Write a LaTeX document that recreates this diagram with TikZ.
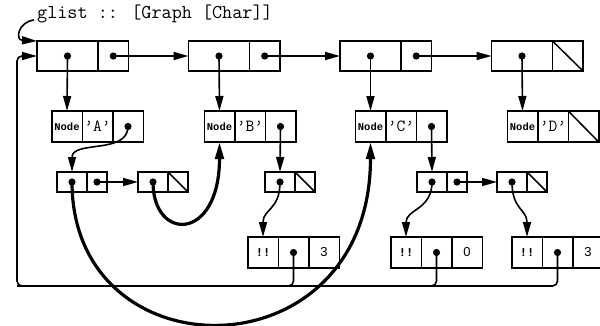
\documentclass[tikz,border=0pt]{standalone}
\usepackage{fontspec}
\setmainfont{Liberation Sans}
\newfontfamily\tagfont{Liberation Mono}
\usetikzlibrary{arrows.meta,positioning}
\tikzset{
  cell/.style={draw,line width=1.5pt,minimum width=30.5pt,minimum height=31pt,inner sep=0pt,outer sep=0pt},
  headcell/.style={cell,minimum width=61pt,minimum height=30pt},
  linkcell/.style={cell,minimum height=30pt},
  conscell/.style={cell,minimum width=30pt,minimum height=20pt},
  tailcell/.style={cell,minimum width=20pt,minimum height=20pt},
  tagcell/.style={cell,font=\tagfont\bfseries\fontsize{10.5}{12}\selectfont},
  bangcell/.style={cell,font=\tagfont\bfseries\fontsize{12}{14}\selectfont},
  charcell/.style={cell,font=\ttfamily\fontsize{17}{19}\selectfont},
  numcell/.style={cell,font=\fontsize{13}{15}\selectfont},
  nilcell/.style={path picture={\draw[line width=1.5pt] (path picture bounding box.north west) -- (path picture bounding box.south east);}},
  ptr/.style={-{Triangle[length=15pt,width=8pt]},line width=1.6pt},
  heavy/.style={-{Triangle[length=17pt,width=8.5pt]},line width=3.2pt},
  wire/.style={line width=1.6pt}
}

\begin{document}
\begin{tikzpicture}[x=1pt,y=1pt]
  \useasboundingbox (0,0) rectangle (600,-325);
  \node[font=\ttfamily\fontsize{19.6}{22}\selectfont,anchor=west,inner sep=0pt] (glist) at (37,-14) {glist :: [Graph [Char]]};

  % the graph list
  \node[headcell] (g1l) at (67.5,-56) {};
  \node[linkcell,right=0pt of g1l] (g1r) {};
  \node[headcell] (g2l) at (219,-56) {};
  \node[linkcell,right=0pt of g2l] (g2r) {};
  \node[headcell] (g3l) at (370.5,-56) {};
  \node[linkcell,right=0pt of g3l] (g3r) {};
  \node[headcell] (g4l) at (522,-56) {};
  \node[linkcell,nilcell,right=0pt of g4l] (g4r) {};

  % graph nodes
  \node[tagcell] (n1a) at (67,-126.5) {Node};
  \node[charcell,right=0pt of n1a] (n1b) {’A’};
  \node[cell,right=0pt of n1b] (n1c) {};
  \node[tagcell] (n2a) at (219.5,-126.5) {Node};
  \node[charcell,right=0pt of n2a] (n2b) {’B’};
  \node[cell,right=0pt of n2b] (n2c) {};
  \node[tagcell] (n3a) at (370.5,-126.5) {Node};
  \node[charcell,right=0pt of n3a] (n3b) {’C’};
  \node[cell,right=0pt of n3b] (n3c) {};
  \node[tagcell] (n4a) at (522.5,-126.5) {Node};
  \node[charcell,right=0pt of n4a] (n4b) {’D’};
  \node[cell,nilcell,right=0pt of n4b] (n4c) {};

  % successor lists
  \node[conscell] (c1l) at (72,-182) {};
  \node[tailcell,right=0pt of c1l] (c1r) {};
  \node[conscell] (c2l) at (153,-182) {};
  \node[tailcell,nilcell,right=0pt of c2l] (c2r) {};
  \node[conscell] (c3l) at (280,-182) {};
  \node[tailcell,nilcell,right=0pt of c3l] (c3r) {};
  \node[conscell] (c4l) at (432,-182) {};
  \node[tailcell,right=0pt of c4l] (c4r) {};
  \node[conscell] (c5l) at (512,-182) {};
  \node[tailcell,nilcell,right=0pt of c5l] (c5r) {};

  % indexing thunks
  \node[bangcell] (b1a) at (263,-252.5) {!!};
  \node[cell,right=0pt of b1a] (b1b) {};
  \node[numcell,right=0pt of b1b] (b1c) {3};
  \node[bangcell] (b2a) at (406,-252.5) {!!};
  \node[cell,right=0pt of b2a] (b2b) {};
  \node[numcell,right=0pt of b2b] (b2c) {0};
  \node[bangcell] (b3a) at (527,-252.5) {!!};
  \node[cell,right=0pt of b3a] (b3b) {};
  \node[numcell,right=0pt of b3b] (b3c) {3};

  \coordinate (loopL) at (17,-286);

  \draw[ptr] ([xshift=-3pt,yshift=-6pt]glist.west) .. controls (18,-22) and (15,-40) .. (g1l.north west);
  \draw[ptr] (g1r.center) -- (g2l.west);
  \draw[ptr] (g2r.center) -- (g3l.west);
  \draw[ptr] (g3r.center) -- (g4l.west);
  \draw[ptr] (g1l.center) -- (n1a.north);
  \draw[ptr] (g2l.center) -- (n2a.north);
  \draw[ptr] (g3l.center) -- (n3a.north);
  \draw[ptr] (g4l.center) -- (n4a.north);

  \draw[ptr] (n1c.center) .. controls +(0,-28) and +(0,32) .. (c1l.north);
  \draw[ptr] (n2c.center) -- (c3l.north);
  \draw[ptr] (n3c.center) -- (c4l.north);
  \draw[ptr] (c1r.center) -- (c2l.west);
  \draw[ptr] (c4r.center) -- (c5l.west);
  \draw[ptr] (c3l.center) .. controls +(0,-28) and +(0,28) .. (b1a.north);
  \draw[ptr] (c4l.center) .. controls +(0,-28) and +(0,28) .. (b2a.north);
  \draw[ptr] (c5l.center) .. controls +(0,-28) and +(0,28) .. (b3a.north);

  \draw[heavy] (c1l.center) .. controls +(0,-195) and +(0,-235) .. (n3a.south);
  \draw[heavy] (c2l.center) .. controls +(0,-60) and +(0,-100) .. (n2a.south);

  % back edges to the head of the list
  \draw[ptr,rounded corners=5pt] (b1b.center) |- (loopL) |- (g1l.west);
  \draw[wire,rounded corners=5pt] (b2b.center) |- (loopL);
  \draw[wire,rounded corners=5pt] (b3b.center) |- (loopL);

  \foreach \c in {g1l,g1r,g2l,g2r,g3l,g3r,g4l,n1c,n2c,n3c,c1l,c1r,c2l,c3l,c4l,c4r,c5l,b1b,b2b,b3b}
    \fill (\c.center) circle (3.6pt);
\end{tikzpicture}
\end{document}
